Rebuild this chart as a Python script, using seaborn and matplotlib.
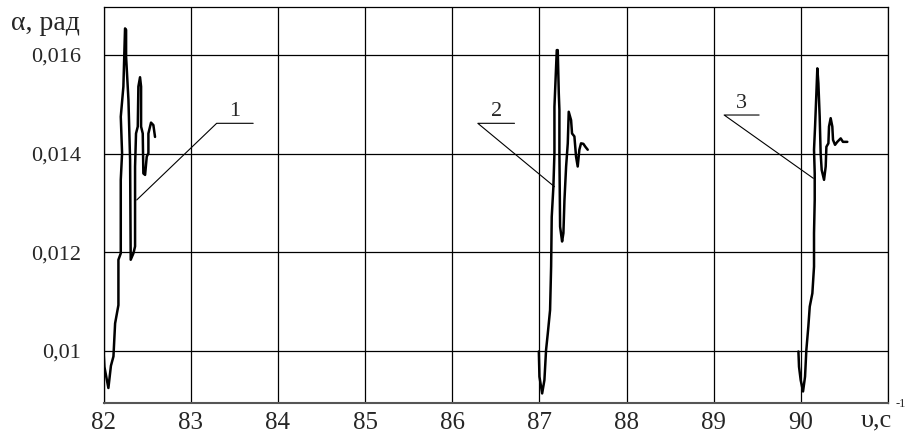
import matplotlib
matplotlib.use("Agg")
import matplotlib.pyplot as plt
import seaborn as sns
import pandas as pd

# curve 1 (near 82)
x1 = [82.0, 82.01, 82.056, 82.085, 82.114, 82.133, 82.171, 82.171, 82.198, 82.198,
      82.213, 82.198, 82.228, 82.247, 82.259, 82.259, 82.286, 82.305, 82.312, 82.343,
      82.362, 82.362, 82.373, 82.393, 82.400, 82.419, 82.431, 82.431, 82.450, 82.457,
      82.477, 82.496, 82.515, 82.515, 82.545, 82.572, 82.591]
y1 = [0.00999, 0.00968, 0.00925, 0.0097, 0.00989, 0.01056, 0.01093, 0.01185, 0.01198, 0.01347,
      0.01401, 0.01475, 0.01536, 0.01654, 0.01651, 0.01597, 0.01509, 0.01387, 0.01185, 0.01198,
      0.01212, 0.01374, 0.01441, 0.01455, 0.01536, 0.01555, 0.01536, 0.01455, 0.01441, 0.01360,
      0.01357, 0.01394, 0.01401, 0.01441, 0.01463, 0.01458, 0.01434]

# curve 2 (near 87)
x2 = [86.994, 87.001, 87.032, 87.058, 87.077, 87.097, 87.123, 87.135, 87.142, 87.161,
      87.173, 87.173, 87.200, 87.211, 87.223, 87.230, 87.230, 87.238, 87.261, 87.276,
      87.288, 87.307, 87.326, 87.337, 87.364, 87.375, 87.402, 87.421, 87.440, 87.459,
      87.478, 87.505, 87.528, 87.555]
y2 = [0.00999, 0.00948, 0.00914, 0.00941, 0.01002, 0.01036, 0.01083, 0.01171, 0.01272, 0.01333,
      0.01401, 0.01495, 0.01610, 0.01610, 0.01522, 0.01489, 0.01401, 0.01252, 0.01222, 0.01239,
      0.01306, 0.01374, 0.01421, 0.01485, 0.01468, 0.01441, 0.01435, 0.01394, 0.01374, 0.01408,
      0.01421, 0.01420, 0.01414, 0.01408]

# curve 3 (near 90)
x3 = [89.972, 89.979, 89.998, 90.025, 90.048, 90.063, 90.086, 90.102, 90.132, 90.151,
      90.151, 90.159, 90.159, 90.151, 90.163, 90.178, 90.189, 90.201, 90.216, 90.227,
      90.239, 90.266, 90.285, 90.293, 90.316, 90.323, 90.342, 90.361, 90.369, 90.392,
      90.418, 90.457, 90.483, 90.514, 90.533]
y3 = [0.00999, 0.00968, 0.00941, 0.00918, 0.00948, 0.01002, 0.01050, 0.01090, 0.01117, 0.01171,
      0.01239, 0.01306, 0.01360, 0.01408, 0.01455, 0.01522, 0.01573, 0.01543, 0.01475, 0.01401,
      0.01367, 0.01347, 0.01374, 0.01414, 0.01421, 0.01455, 0.01472, 0.01455, 0.01428, 0.01418,
      0.01424, 0.01431, 0.01424, 0.01424, 0.01424]

curve_labels = ["1", "2", "3"]
# leader lines: shelf from x0 to x1 at leader_y, then a slant to the curve point
leader_x0 = [83.298, 86.294, 89.120]
leader_x1 = [83.717, 86.715, 89.521]
leader_y = [0.014616, 0.014616, 0.014784]
point_x = [82.381, 87.173, 90.143]
point_y = [0.013062, 0.013331, 0.013501]

y_ticks = [0.01, 0.012, 0.014, 0.016]
y_tick_labels = ["0,01", "0,012", "0,014", "0,016"]
x_ticks = [82, 83, 84, 85, 86, 87, 88, 89, 90, 91]
x_tick_labels = ["82", "83", "84", "85", "86", "87", "88", "89", "90", ""]

df = pd.concat([
    pd.DataFrame({"v": x1, "alpha": y1, "curve": "1"}),
    pd.DataFrame({"v": x2, "alpha": y2, "curve": "2"}),
    pd.DataFrame({"v": x3, "alpha": y3, "curve": "3"}),
], ignore_index=True)

sns.set_style("white")
plt.rcParams["font.family"] = ["Liberation Serif", "DejaVu Serif"]

fig = plt.figure(figsize=(9.08, 4.38), dpi=100)
ax = fig.add_axes([0.114, 0.0806, 0.864, 0.904])

sns.lineplot(data=df, x="v", y="alpha", units="curve", estimator=None, sort=False,
             color="black", linewidth=1.8, ax=ax)

# leaders with labels
for lab, a, b, ly, px, py in zip(curve_labels, leader_x0, leader_x1, leader_y, point_x, point_y):
    ax.plot([b, a, px], [ly, ly, py], color="black", linewidth=0.8)
    ax.text((a + b) / 2, ly + 0.00005, lab, ha="center", va="bottom", fontsize=16)

ax.set_xlim(82, 91)
ax.set_ylim(0.008952, 0.016979)
ax.set_xticks(x_ticks)
ax.set_xticklabels(x_tick_labels, fontsize=18)
ax.set_yticks(y_ticks)
ax.set_yticklabels(y_tick_labels, fontsize=16)
ax.set_xlabel("")
ax.set_ylabel("")
ax.grid(True, color="black", linewidth=0.9)
ax.tick_params(axis="both", direction="out", length=4, width=0.8, color="black")
ax.tick_params(axis="x", pad=3)
ax.tick_params(axis="y", pad=12)
for s in ax.spines.values():
    s.set_color("black")
    s.set_linewidth(0.9)
ax.spines["bottom"].set_linewidth(1.5)
ax.spines["bottom"].set_color("#555555")

fig.text(0.012, 0.975, "α, рад", ha="left", va="top", fontsize=20)
fig.text(0.948, 0.015, "υ,с", ha="left", va="bottom", fontsize=19)
fig.text(0.986, 0.092, "-1", ha="left", va="top", fontsize=9)

fig.savefig("out.png", dpi=100)
